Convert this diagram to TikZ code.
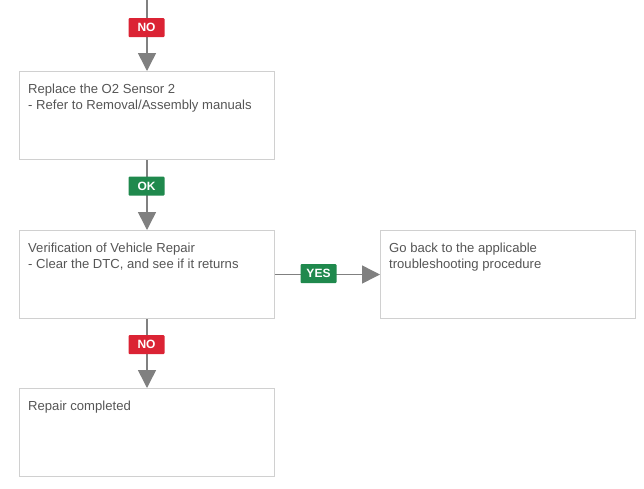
\documentclass[tikz,border=0pt]{standalone}
\usepackage{fontspec}
\setmainfont{Liberation Sans}
\usetikzlibrary{positioning,arrows.meta}
\tikzstyle{flowchart} = [x = 1pt, y = -1pt]
\definecolor{boxLineColor}{RGB}{208,208,208}
\definecolor{stepTextColor}{RGB}{85,85,85}
\definecolor{flowLineColor}{RGB}{128,128,128}
\definecolor{noColor}{RGB}{219,35,52}
\definecolor{okColor}{RGB}{31,137,77}
\tikzstyle{stepBox} = [draw=boxLineColor, line width=1pt, minimum width=255pt, minimum height=88pt, anchor=north west, inner sep=0pt]
\tikzstyle{stepText} = [text=stepTextColor, font=\fontsize{13.1}{16}\selectfont, align=left, inner sep=0pt]
\tikzstyle{flowArrow} = [draw=flowLineColor, line width=1.5pt, -{Triangle[length=18pt, width=18pt]}]
\tikzstyle{answer} = [text=white, font=\fontsize{12}{12}\selectfont\bfseries, minimum width=36pt, minimum height=19pt, inner sep=0pt, rounded corners=1pt]
\newcommand{\noAnswer}[3]{\node [answer, fill=noColor] (#1) at (#2, #3) {NO};}

\begin{document}
\begin{tikzpicture}[flowchart]
            \useasboundingbox (0,0) rectangle (644,488);
            % boxes
            \node [stepBox] (replace) at (19,71) {};
            \node [stepBox] (verify) at (19,230) {};
            \node [stepBox] (goBack) at (380,230) {};
            \node [stepBox] (done) at (19,388) {};
            \node [stepText, below right=12.5pt and 9pt of replace.north west] (replaceText) {Replace the O2 Sensor 2\\- Refer to Removal/Assembly manuals};
            \node [stepText, below right=12.5pt and 9pt of verify.north west] (verifyText) {Verification of Vehicle Repair\\- Clear the DTC, and see if it returns};
            \node [stepText, below right=12.5pt and 9pt of goBack.north west] (goBackText) {Go back to the applicable\\troubleshooting procedure};
            \node [stepText, below right=12.5pt and 9pt of done.north west] (doneText) {Repair completed};

            % connectors
            \coordinate (start) at (replace.north |- 0,0);
            \draw [flowArrow] (start) -- (replace.north);
            \draw [flowArrow] (replace.south) -- (verify.north);
            \draw [flowArrow] (verify.east) -- (goBack.west);
            \draw [flowArrow] (verify.south) -- (done.north);

            % answers
            \noAnswer{noSensor}{146.5}{27.5}
            \node [answer, fill=okColor] (okSensor) at (146.5,186) {OK};
            \node [answer, fill=okColor] (yesReturn) at (318.5,273.5) {YES};
            \noAnswer{noReturn}{146.5}{344.5}
          \end{tikzpicture}
\end{document}
